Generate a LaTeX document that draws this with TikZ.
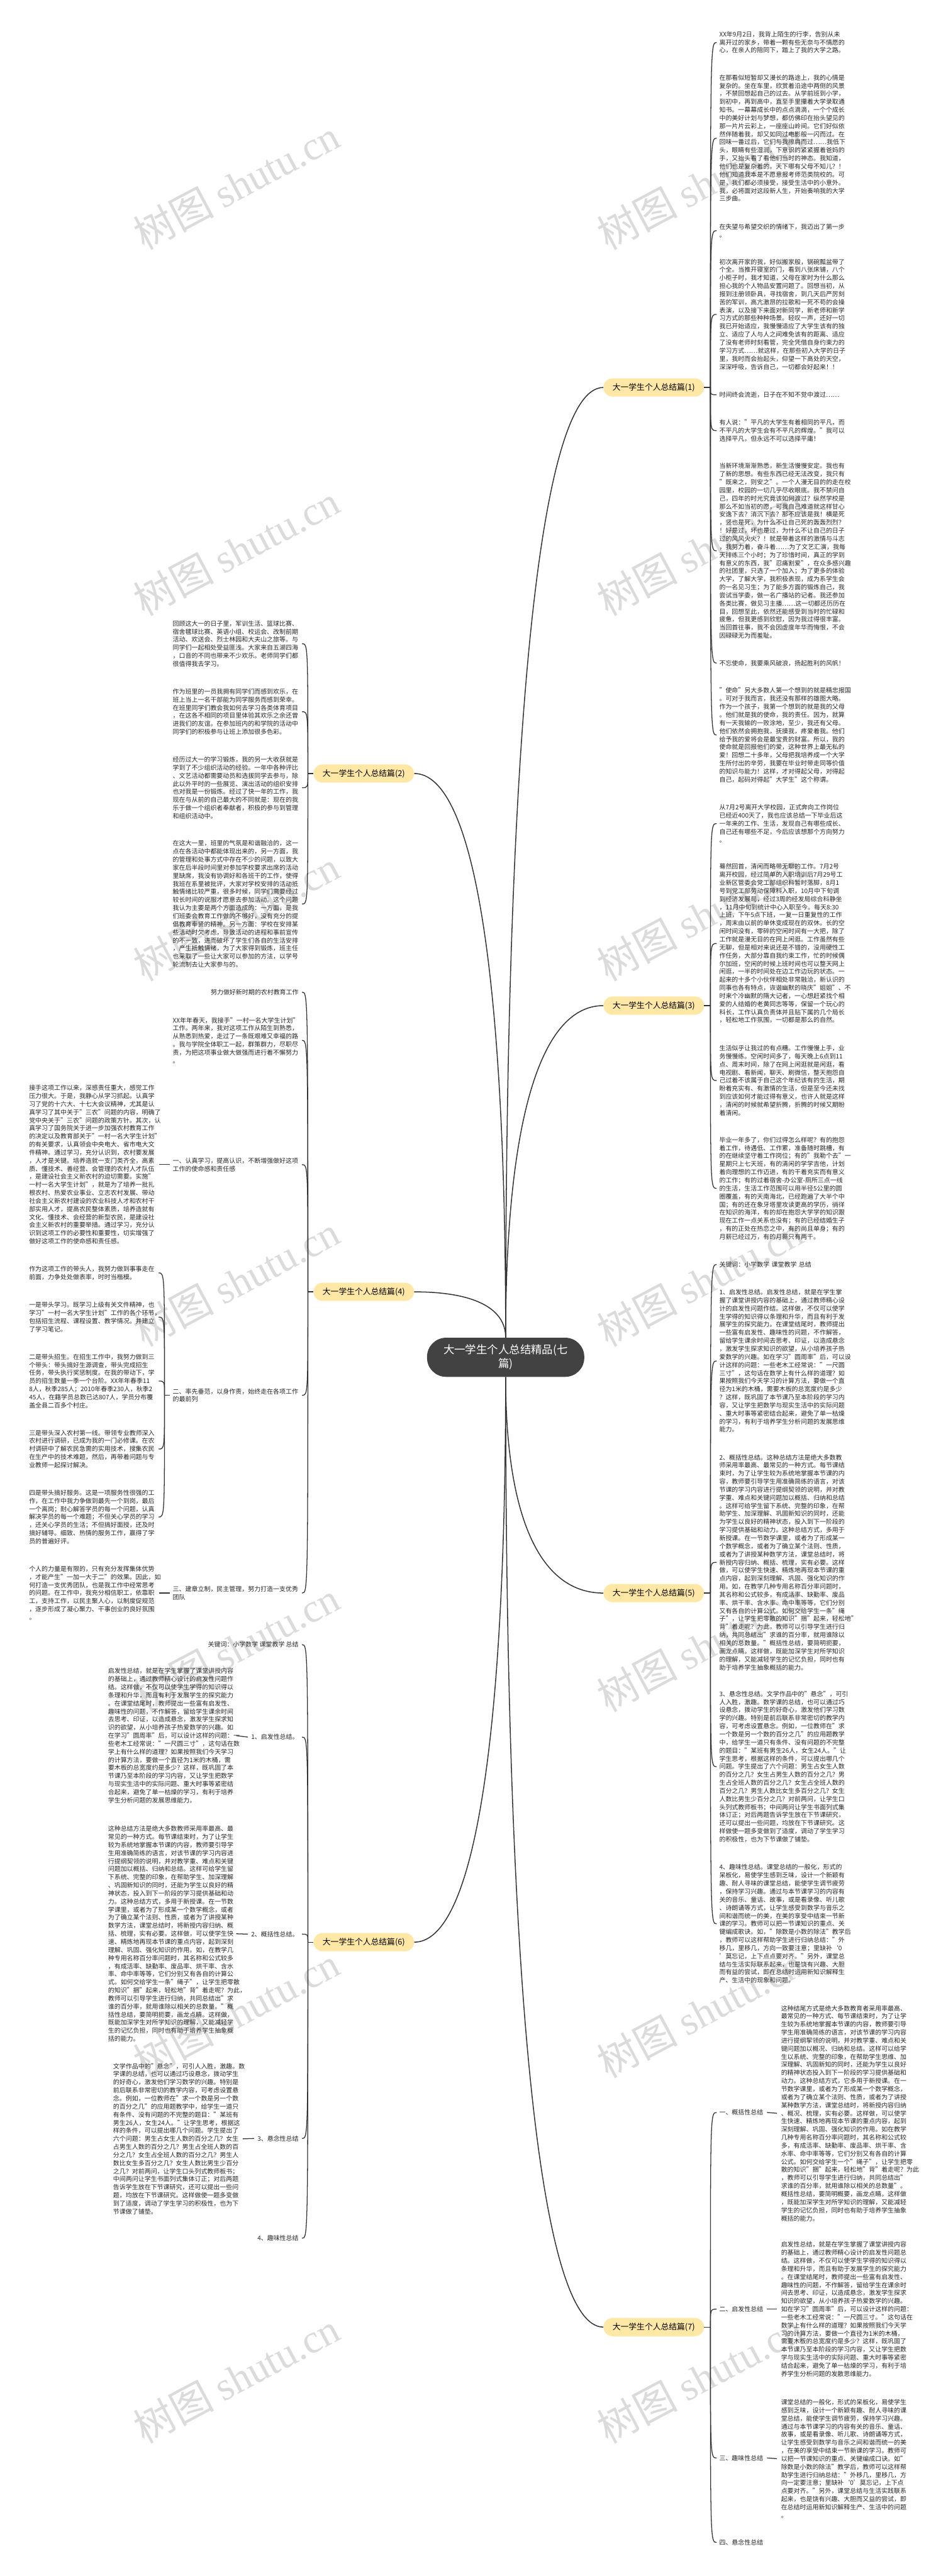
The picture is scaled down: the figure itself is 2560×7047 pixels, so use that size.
\documentclass[tikz,border=0pt]{standalone}
\usepackage{fontspec}
\setmainfont{Noto Sans CJK SC}
\newfontfamily\wmlat{Liberation Serif}
\definecolor{lc}{RGB}{51,51,51}
\definecolor{yel}{RGB}{255,231,166}
\definecolor{ctrc}{RGB}{66,66,66}
\begin{document}
\begin{tikzpicture}[x=0.5pt,y=-0.5pt,
  txt/.style={inner sep=0pt, align=left, text width=172pt, text=black!85, font=\fontsize{8.575pt}{11.05pt}\selectfont},
  lbl/.style={inner sep=0pt, text=black!85, font=\fontsize{8.575pt}{11.05pt}\selectfont},
  branch/.style={fill=yel, rounded corners=12.5pt, minimum width=137.5pt, minimum height=25pt, inner sep=0pt, font=\fontsize{11pt}{13pt}\selectfont},
  root/.style={fill=ctrc, text=white, rounded corners=26pt, minimum width=215pt, minimum height=53.5pt, inner sep=0pt, align=center, font=\fontsize{15pt}{19pt}\selectfont},
  conn/.style={draw=lc, line width=1.1pt},
  mainc/.style={draw=lc, line width=1.3pt},
  wmark/.style={rotate=28, text=black!14, inner sep=0pt, font=\fontsize{55pt}{60pt}\selectfont}]
\useasboundingbox[fill=white] (0,0) rectangle (2560,7047);

% watermarks
\foreach \yy [count=\i] in {505,1505,2505,3505,4505,5505,6505}{
  \node[wmark] (wl\i) at (647,\yy) {树图 {\wmlat shutu.cn}};
  \node[wmark] (wr\i) at (1915,\yy) {树图 {\wmlat shutu.cn}};
}

% root and branches
\node[root] (root) at (1383,3713) {大一学生个人总结精品(七\\篇)};
\node[branch] (b1) at (1788,1060) {大一学生个人总结篇(1)};
\node[branch] (b2) at (995,2116) {大一学生个人总结篇(2)};
\node[branch] (b3) at (1788,2751) {大一学生个人总结篇(3)};
\node[branch] (b4) at (995,3534) {大一学生个人总结篇(4)};
\node[branch] (b5) at (1788,4358) {大一学生个人总结篇(5)};
\node[branch] (b6) at (995,5313) {大一学生个人总结篇(6)};
\node[branch] (b7) at (1788,6366) {大一学生个人总结篇(7)};

\draw[mainc] (root.north) .. controls (1383,1970) and (1477,1060) .. (b1.west);
\draw[mainc] (root.north) .. controls (1383,3069) and (1477,2751) .. (b3.west);
\draw[mainc] (root.south) .. controls (1383,4151) and (1477,4358) .. (b5.west);
\draw[mainc] (root.south) .. controls (1383,5456) and (1477,6366) .. (b7.west);
\draw[mainc] (root.north) .. controls (1383,2656) and (1295,2116) .. (b2.east);
\draw[mainc] (root.north) .. controls (1383,3578) and (1295,3534) .. (b4.east);
\draw[mainc] (root.south) .. controls (1383,4772) and (1295,5313) .. (b6.east);

% exits
\coordinate (e1) at (1943,1060);
\coordinate (e3) at (1943,2751);
\coordinate (e5) at (1943,4358);
\coordinate (e7) at (1943,6366);
\coordinate (e2) at (842,2116);
\coordinate (e4) at (842,3534);
\coordinate (e6) at (842,5313);
\draw[conn] (b1.east) -- (e1);
\draw[conn] (b3.east) -- (e3);
\draw[conn] (b5.east) -- (e5);
\draw[conn] (b7.east) -- (e7);
\draw[conn] (b2.west) -- (e2);
\draw[conn] (b4.west) -- (e4);
\draw[conn] (b6.west) -- (e6);

% ---------- branch 1 ----------
\node[txt,anchor=west] (r11) at (1967,116) {XX年9月2日，我背上陌生的行李，告别从未\\离开过的家乡，带着一颗有些无奈与不情愿的\\心，在亲人的陪同下，踏上了我的大学之路。};
\node[txt,anchor=west] (r12) at (1967,378) {在那看似短暂却又漫长的路途上，我的心情是\\复杂的。坐在车里，欣赏着沿途中两侧的风景\\，不禁回想起自己的过去。从学前班到小学，\\到初中，再到高中，直至手里攥着大学录取通\\知书。一幕幕成长中的点点滴滴，一个个成长\\中的美好计划与梦想，都仿佛印在抬头望见的\\那一片片云彩上，一座座山岭间。它们好似依\\然伴随着我，却又如同过电影般一闪而过。在\\回味一番过后，它们与我擦肩而过……我低下\\头，眼睛有些湿润，下意识的紧紧握着爸妈的\\手，又抬头看了看他们当时的神态。我知道，\\他们也是复杂着的。天下哪有父母不知儿？！\\他们知道我本是不愿意报考师范类院校的。可\\是，我们都必须接受，接受生活中的小意外。\\我，必将面对这段新人生，开始奏响我的大学\\三步曲。};
\node[txt,anchor=west] (r13) at (1967,631) {在失望与希望交织的情绪下，我迈出了第一步\\。};
\node[txt,anchor=west] (r14) at (1967,860) {初次离开家的我，好似搬家般，锅碗瓢盆带了\\个全。当推开寝室的门，看到八张床铺，八个\\小柜子时，我才知道，父母在家时为什么那么\\担心我的个人物品安置问题了。回想当初，从\\报到注册领卧具，寻找宿舍，到几天后严厉刻\\苦的军训，高亢激昂的拉歌和一死不苟的会操\\表演，以及接下来面对新同学，新老师和新学\\习方式的那些种种场景。轻叹一声，还好一切\\我已开始适应，我慢慢适应了大学生该有的独\\立、适应了人与人之间难免该有的距离、适应\\了没有老师时刻看管，完全凭借自身约束力的\\学习方式……就这样，在那些初入大学的日子\\里，我时而会抬起头，仰望一下高处的天空，\\深深呼吸，告诉自己，一切都会好起来！！};
\node[txt,anchor=west] (r15) at (1967,1080) {时间终会流逝，日子在不知不觉中渡过……};
\node[txt,anchor=west] (r16) at (1967,1178) {有人说："平凡的大学生有着相同的平凡，而\\不平凡的大学生会有不平凡的辉煌。"我可以\\选择平凡，但永远不可以选择平庸！};
\node[txt,anchor=west] (r17) at (1967,1507) {当新环境渐渐熟悉，新生活慢慢安定。我也有\\了新的思想。有些东西已经无法改变，我只有\\"既来之，则安之"。一个人漫无目的的走在校\\园里，校园的一切几乎尽收眼底。我不禁问自\\己，四年的时光究竟该如何渡过？纵然学校是\\那么不如当初的愿，可我自己难道就这样甘心\\安逸下去？消沉下去？那不应该是我！横是死\\，竖也是死，为什么不让自己死的轰轰烈烈？\\！好是过，坏也是过，为什么不让自己的日子\\过的风风火火？！就是带着这样的激情与斗志\\，我努力着，奋斗着……为了文艺汇演，我每\\天排练三个小时；为了珍惜时间，真正的学到\\有意义的东西，我"忍痛割爱"，在众多感兴趣\\的社团里，只选了一个加入；为了更多的体验\\大学，了解大学，我积极表现，成为系学生会\\的一名见习生；为了能多方面的锻炼自己，我\\尝试当学委，做一名广播站的记者。我还参加\\各类比赛，做见习主播……这一切都还历历在\\目，回想至此，依然还能感受到当时的忙碌和\\疲惫，但我更感到欣慰，因为我过得很丰富。\\当回首往事，我不会因虚度年华而悔恨，不会\\因碌碌无为而羞耻。};
\node[txt,anchor=west] (r18) at (1967,1814) {不忘使命，我要乘风破浪，扬起胜利的风帆！};
\node[txt,anchor=west] (r19) at (1967,2011) {"使命"另大多数人第一个想到的就是精忠报国\\。可对于我而言，我还没有那样的雄图大略。\\作为一个孩子，我第一个想到的就是我的父母\\。他们就是我的使命，我的责任。因为，就算\\有一天我输的一败涂地，至少，我还有父母。\\他们依然会拥抱我，抚摸我，疼爱着我。他们\\给予我的爱将会是最宝贵的财富。所以，我的\\使命就是回报他们的爱，这种世界上最无私的\\爱！回想二十多年，父母把我培养成一个大学\\生所付出的辛劳，我要在毕业时带走同等价值\\的知识与能力！这样，才对得起父母，对得起\\自己，起码对得起"大学生"这个称谓。};
\foreach \n in {r11,r12,r13,r14,r15,r16,r17,r18,r19}
  \draw[conn] (e1) .. controls (e1 |- \n.west) .. ([xshift=-3.5pt]\n.west);

% ---------- branch 3 ----------
\node[txt,anchor=west] (r31) at (1967,2253) {从7月2号离开大学校园，正式奔向工作岗位\\已经近400天了，我也应该总结一下毕业后这\\一年来的工作、生活，发现自己有哪些成长、\\自己还有哪些不足，今后应该想那个方向努力\\。};
\node[txt,anchor=west] (r32) at (1967,2581) {蓦然回首，清闲而略带无聊的工作。7月2号\\离开校园，经过简单的入职培训后7月29号工\\业新区管委会党工部组织科暂时落脚，8月1\\号到党工部劳动保障科入职，10月中下旬调\\到经济发展局，经过3周的经发局综合科静坐\\，11月中旬到统计中心入职至今。每天8:30\\上班，下午5点下班，一复一日重复性的工作\\，周末由以前的单休变成现在的双休。长的空\\闲时间没有，零碎的空闲时间有一大把，除了\\工作就是漫无目的在网上闲逛。工作虽然有些\\无聊，但是相对来说还是不错的，没用硬性工\\作任务，大部分靠自我约束工作，忙的时候偶\\尔加班，空闲的时候上班时间也可以整天网上\\闲逛，一半的时间处在边工作边玩的状态。一\\起来的十多个小伙伴相处非常融洽，新认识的\\同事也各有特点，诙谐幽默的晓庆"姐姐"、不\\时来个冷幽默的隋大记者，一心想赶紧找个相\\爱的人结婚的老黄同志等等，保留一个玩心的\\科长，工作认真负责体并且贴下属的几个局长\\，轻松地工作氛围，一切都是那么的自然。};
\node[txt,anchor=west] (r33) at (1967,2956) {生活似乎让我过的有点糟。工作慢慢上手，业\\务慢慢练。空闲时间多了，每天晚上6点到11\\点、周末时间，除了在网上闲逛就是闲逛，看\\电视剧、看新闻，聊天、刷微信，整天抱怨自\\己过着不该属于自己这个年纪该有的生活，期\\盼着充实有、有激情的生活，但是至今还未找\\到应该如何才能过得有意义，也许人就是这样\\，清闲的时候就希望折腾，折腾的时候又期盼\\着清闲。};
\node[txt,anchor=west] (r34) at (1967,3251) {毕业一年多了，你们过得怎么样呢？有的抱怨\\着工作，待遇低、工作累，准备随时跳槽，有\\的在继续坚守着工作岗位；有的"我勒个去"一\\星期只上七天班，有的清闲的学学吉他，计划\\着向理想的工作迈进，有的干着充实而有意义\\的工作；有的过着宿舍-办公室-厕所三点一线\\的生活，生活工作范围可以用半径5公里的圆\\圈覆盖，有的天南海北，已经跑遍了大半个中\\国；有的还在象牙塔里攻读更高的学历，徜徉\\在知识的海洋，有的却在抱怨大学学的知识跟\\现在工作一点关系也没有；有的已经结婚生子\\，有的正处在热恋之中，有的尚且单身；有的\\月薪已经过万，有的月薪只有两千。};
\foreach \n in {r31,r32,r33,r34}
  \draw[conn] (e3) .. controls (e3 |- \n.west) .. ([xshift=-3.5pt]\n.west);

% ---------- branch 5 ----------
\node[txt,anchor=west] (r51) at (1967,3459) {关键词：小学数学 课堂教学 总结};
\node[txt,anchor=west] (r52) at (1967,3723) {1、启发性总结。启发性总结，就是在学生掌\\握了课堂讲授内容的基础上，通过教师精心设\\计的启发性问题作结。这样做，不仅可以使学\\生学得的知识得以条理和升华，而且有利于发\\展学生的探究能力。在课堂结尾时，教师提出\\一些富有启发性、趣味性的问题，不作解答，\\留给学生课余时间去思考、印证，以造成悬念\\，激发学生探求知识的欲望，从小培养孩子热\\爱数学的兴趣。如在学习"圆周率"后，可以设\\计这样的问题：一些老木工经常说："一尺圆\\三寸"，这句话在数学上有什么样的道理？如\\果按照我们今天学习的计算方法，要做一个直\\径为1米的木桶，需要木板的总宽度约是多少\\？这样，既巩固了本节课乃至本阶段的学习内\\容，又让学生把数学与现实生活中的实际问题\\、重大时事等紧密结合起来，避免了单一枯燥\\的学习，有利于培养学生分析问题的发展思维\\能力。};
\node[txt,anchor=west] (r53) at (1967,4274) {2、概括性总结。这种总结方法是绝大多数教\\师采用率最高、最常见的一种方式。每节课结\\束时，为了让学生较为系统地掌握本节课的内\\容，教师要引导学生用准确简练的语言，对该\\节课的学习内容进行提纲契领的说明，并对教\\学重、难点和关键问题加以概括、归纳和总结\\。这样可给学生留下系统、完整的印象，在帮\\助学生、加深理解、巩固新知识的同时，还能\\为学生以良好的精神状态，投入到下一阶段的\\学习提供基础和动力。这种总结方式，多用于\\新授课。在一节数学课里，或者为了形成某一\\个数学概念，或者为了确立某个法则、性质，\\或者为了讲授某种数学方法，课堂总结时，将\\新授内容归纳、概括、梳理，实有必要。这样\\做，可以使学生快速、精炼地再现本节课的重\\点内容，起到深刻理解、巩固、强化知识的作\\用。如，在教学几种专用名称百分率问题时，\\其名称和公式较多，有成活率、缺勤率、废品\\率、烘干率、含水率、命中率等等，它们分别\\又有各自的计算公式。如何交给学生一条"绳\\子"，让学生把零散的知识"捆"起来，轻松地"\\背"着走呢？为此，教师可以引导学生进行归\\纳，共同总结出"求谁的百分率，就用谁除以\\相关的总数量。"概括性总结，要简明扼要，\\画龙点睛。这样做，既能加深学生对所学知识\\的理解，又能减轻学生的记忆负担，同时也有\\助于培养学生抽象概括的能力。};
\node[txt,anchor=west] (r54) at (1967,4833) {3、悬念性总结。文学作品中的"悬念"，可引\\人入胜，激趣。数学课的总结，也可以通过巧\\设悬念，拨动学生的好奇心，激发他们学习数\\学的兴趣。特别是前后联系非常密切的教学内\\容，可考虑设置悬念。例如，一位教师在"求\\一个数是另一个数的百分之几"的应用题教学\\中，给学生一道只有条件、没有问题的不完整\\的题目："某班有男生26人，女生24人。"让\\学生思考，根据这样的条件，可以提出哪几个\\问题。学生提出了六个问题：男生占女生人数\\的百分之几？女生占男生人数的百分之几？男\\生占全班人数的百分之几？女生占全班人数的\\百分之几？男生人数比女生多百分之几？女生\\人数比男生少百分之几？对前两问，让学生口\\头列式教师板书；中间两问让学生书面列式集\\体订正；对后两题告诉学生放在下节课研究，\\还可以提出一些问题，均放在下节课研究。这\\样做使一题多变做到了适度，调动了学生学习\\的积极性，也为下节课做了铺垫。};
\node[txt,anchor=west] (r55) at (1967,5263) {4、趣味性总结。课堂总结的一般化，形式的\\呆板化，易使学生感到乏味，设计一个新颖有\\趣、耐人寻味的课堂总结，能使学生调节疲劳\\，保持学习兴趣。通过与本节课学习的内容有\\关的音乐、童话、故事，或是看录像、听儿歌\\、诗朗诵等方式，让学生感受到数学与音乐之\\间和谐而统一的美，在美的享受中结束一节新\\课的学习。教师可以把一节课知识的重点、关\\键编成歌诀。如，"除数是小数的除法"教学后\\，教师可以这样帮助学生进行归纳总结："外\\移几，里移几，方向一致要注意；里缺补‘0\\’莫忘记，上下点点要对齐。"另外，课堂总\\结与生活实际联系起来，也是饶有兴趣、大胆\\而有益的尝试，即在总结时运用新知识解释生\\产、生活中的现象和问题。};
\foreach \n in {r51,r52,r53,r54,r55}
  \draw[conn] (e5) .. controls (e5 |- \n.west) .. ([xshift=-3.5pt]\n.west);

% ---------- branch 7 ----------
\node[lbl,anchor=west] (r71) at (1967,5779) {一、概括性总结};
\node[lbl,anchor=west] (r72) at (1967,6317) {二、启发性总结};
\node[lbl,anchor=west] (r73) at (1967,6724) {三、趣味性总结};
\node[lbl,anchor=west] (r74) at (1967,6955) {四、悬念性总结};
\foreach \n in {r71,r72,r73,r74}
  \draw[conn] (e7) .. controls (e7 |- \n.west) .. ([xshift=-3.5pt]\n.west);
\node[txt,anchor=west] (g71) at (2136,5781) {这种结尾方式是绝大多数教育者采用率最高、\\最常见的一种方式、每节课结束时，为了让学\\生较为系统地掌握本节课的内容，教师要引导\\学生用准确简练的语言，对该节课的学习内容\\进行提纲挈领的说明，并对教学重、难点和关\\键问题加以概况、归纳和总结。这样可以给学\\生以系统、完整的印象，在帮助学生思维、加\\深理解、巩固新知的同时，还能为学生以良好\\的精神状态投入到下一阶段的学习提供基础和\\动力。这种总结方式，它多用于新授课。在一\\节数学课里，或者为了形成某一个数学概念，\\或者为了确立某个法则、性质，或者为了讲授\\某种数学方法，课堂总结时，将新授内容归纳\\、概况、梳理，实有必要。这样做，可以使学\\生快速、精炼地再现本节课的重点内容，起到\\深刻理解、巩固、强化知识的作用。如在教学\\几种专用名称百分率问题时，其名称和公式较\\多，有成活率、缺勤率、废品率、烘干率、含\\水率、命中率等等，它们分别又有各自的计算\\公式。如何交给学生一个"绳子"，让学生把零\\散的知识"捆"起来，轻松地"背"着走呢？为此\\，教师可以引导学生进行归纳，共同总结出"\\求谁的百分率，就用谁除以相关的总数量"。\\概括性总结，要简明概要，画龙点睛。这样做\\，既能加深学生对所学知识的理解，又能减轻\\学生的记忆负担，同时也有助于培养学生抽象\\概括的能力。};
\node[txt,anchor=west] (g72) at (2136,6317) {启发性总结，就是在学生掌握了课堂讲授内容\\的基础上，通过教师精心设计的启发性问题总\\结。这样做，不仅可以使学生学得的知识得以\\条理和升华，而且有助于发展学生的探究能力\\。在课堂结尾时，教师提出一些富有启发性、\\趣味性的问题，不作解答，留给学生在课余时\\间去思考、印证，以造成悬念，激发学生探求\\知识的欲望，从小培养孩子热爱数学的兴趣。\\如在学习"圆周率"后，可以设计这样的问题：\\一些老木工经常说："一尺圆三寸。"这句话在\\数学上有什么样的道理？如果按照我们今天学\\习的计算方法，要做一个直径为1米的木桶，\\需要木板的总宽度约是多少？这样，既巩固了\\本节课乃至本阶段的学习内容，又让学生把数\\学与现实生活中的实际问题、重大时事等紧密\\结合起来，避免了单一枯燥的学习，有利于培\\养学生分析问题的发散思维能力。};
\node[txt,anchor=west] (g73) at (2136,6726) {课堂总结的一般化，形式的呆板化，易使学生\\感到乏味，设计一个新颖有趣、耐人寻味的课\\堂总结，能使学生调节疲劳，保持学习兴趣。\\通过与本节课学习的内容有关的音乐、童话、\\故事，或是看录像、听儿歌、诗朗诵等方式，\\让学生感受到数学与音乐之间和谐而统一的美\\，在美的享受中结束一节新课的学习。教师可\\以把一节课知识的重点、关键编成口诀。如"\\除数是小数的除法"教学后，教师可以这样帮\\助学生进行归纳总结："外移几，里移几，方\\向一定要注意；里缺补‘0’莫忘记，上下点\\点要对齐。"另外，课堂总结与生活实践联系\\起来，也是饶有兴趣、大胆而又益的尝试，即\\在总结时运用新知识解释生产、生活中的问题\\。};
\draw[conn] ([xshift=5pt]r71.east) -- ([xshift=-5.5pt]g71.west);
\draw[conn] ([xshift=5pt]r72.east) -- ([xshift=-5.5pt]g72.west);
\draw[conn] ([xshift=5pt]r73.east) -- ([xshift=-5.5pt]g73.west);

% ---------- branch 2 ----------
\node[txt,anchor=east] (l21) at (817,1761) {回顾这大一的日子里，军训生活、篮球比赛、\\宿舍毽球比赛、英语小组、校运会、改制前期\\活动、欢送会、烈士林园和大夫山之旅等。与\\同学们一起相处受益匪浅。大家来自五湖四海\\，口音的不同也带来不少欢乐。老师同学们都\\很值得我去学习。};
\node[txt,anchor=east] (l22) at (817,1947) {作为班里的一员我拥有同学们而感到欢乐，在\\班上当上一名干部能为同学服务而感到荣幸。\\在班里同学们教会我如何去学习各类体育项目\\，在这各不相同的项目里体验其欢乐之余还曾\\进我们的友谊。在参加班内的和学院的活动中\\同学们的积极参与让班上添加很多色彩。};
\node[txt,anchor=east] (l23) at (817,2155) {经历过大一的学习锻炼，我的另一大收获就是\\学到了不少组织活动的经验。一年中各种评比\\、文艺活动都需要动员和选拔同学去参与，除\\此以外平时的一些展览、演出活动的组织安排\\也对我是一份锻炼。经过了快一年的工作，我\\现在与从前的自己最大的不同就是：现在的我\\乐于做一个组织者奉献者，积极的参与到管理\\和组织活动中。};
\node[txt,anchor=east] (l24) at (817,2473) {在这大一里，班里的气氛是和谐融洽的，这一\\点在各活动中都能体现出来的，另一方面，我\\的管理和处事方式中存在不少的问题，以致大\\家在后半段时间里对参加学校要求出席的活动\\里缺席，我没有协调好和各班干的工作，使得\\我班在系里被批评，大家对学校安排的活动抵\\触情绪比较严重，很多时候，同学们需要经过\\较长时间的说服才愿意去参加活动。这个问题\\我认为主要是两个方面造成的：一方面，是我\\们班委会教育工作做的不够好，没有充分的提\\倡教育奉贤的精神。另一方面：学校在安排某\\些活动时欠考虑，导致活动的进程和事前宣传\\的不一致，进而破坏了学生们各自的生活安排\\，产生抵触情绪，为了大家得到锻炼，班主任\\也采取了一些让大家可以参加的方法，以学号\\轮流制去让大家参与的。};
\foreach \n in {l21,l22,l23,l24}
  \draw[conn] (e2) .. controls (e2 |- \n.east) .. ([xshift=4.5pt]\n.east);

% ---------- branch 4 ----------
\node[lbl,anchor=east] (l40) at (817,2714) {努力做好新时期的农村教育工作};
\node[txt,anchor=east] (l41) at (817,2846) {XX年年春天，我接手"一村一名大学生计划"\\工作。两年来，我对这项工作从陌生到熟悉，\\从熟悉到热爱，走过了一条既艰难又幸福的路\\。我与学院全体职工一起，群策群力，尽职尽\\责，为把这项事业做大做强而进行着不懈努力\\。};
\node[txt,anchor=east] (l42) at (817,3186) {一、认真学习，提高认识，不断增强做好这项\\工作的使命感和责任感};
\node[txt,anchor=east] (l43) at (817,3817) {二、率先垂范，以身作责，始终走在各项工作\\的最前列};
\node[txt,anchor=east] (l44) at (817,4358) {三、建章立制，民主管理，努力打造一支优秀\\团队};
\foreach \n in {l40,l41,l42,l43,l44}
  \draw[conn] (e4) .. controls (e4 |- \n.east) .. ([xshift=4.5pt]\n.east);

\node[txt,anchor=east] (g42) at (424,3186) {接手这项工作以来，深感责任重大，感觉工作\\压力很大。于是，我静心从学习抓起。认真学\\习了党的十六大、十七大会议精神，尤其是认\\真学习了其中关于"三农"问题的内容，明确了\\党中央关于"三农"问题的政策方针。其次，认\\真学习了国务院关于进一步加强农村教育工作\\的决定以及教育部关于"一村一名大学生计划"\\的有关要求，认真领会中央电大、省市电大文\\件精神。通过学习，充分认识到，农村要发展\\，人才是关键。培养造就一支门类齐全，高素\\质、懂技术、善经营、会管理的农村人才队伍\\，是建设社会主义新农村的迫切需要。实施"\\一村一名大学生计划"，就是为了培养一批扎\\根农村、热爱农业事业、立志农村发展、带动\\社会主义新农村建设的农业科技人才和农村干\\部实用人才，提高农民整体素质，培养造就有\\文化、懂技术、会经营的新型农民，是建设社\\会主义新农村的重要举措。通过学习，充分认\\识到这项工作的必要性和重要性，切实增强了\\做好这项工作的使命感和责任感。};
\draw[conn] ([xshift=-4pt]l42.west) -- ([xshift=6pt]g42.east);

\coordinate (e43) at (450,3817);
\draw[conn] ([xshift=-4pt]l43.west) -- (e43);
\node[txt,anchor=east] (g431) at (424,3482) {作为这项工作的带头人，我努力做到事事走在\\前面，力争处处做表率，时时当楷模。};
\node[txt,anchor=east] (g432) at (424,3603) {一是带头学习。既学习上级有关文件精神，也\\学习"一村一名大学生计划"工作的各个环节，\\包括招生流程、课程设置、教学情况。并建立\\了学习笔记。};
\node[txt,anchor=east] (g433) at (424,3778) {二是带头招生。在招生工作中，我努力做到三\\个带头：带头搞好生源调查，带头完成招生\\任务，带头执行奖惩制度。在我的带动下，学\\员的招生数量一季一个台阶。XX年年春季11\\8人，秋季285人；2010年春季230人，秋季2\\45人，在籍学员总数已达807人，学员分布覆\\盖全县二百多个村庄。};
\node[txt,anchor=east] (g434) at (424,3964) {三是带头深入农村第一线。带领专业教师深入\\农村进行调研，已成为我的一门必修课。在农\\村调研中了解农民急需的实用技术，搜集农民\\在生产中的技术难题，然后，再带着问题与专\\业教师一起探讨解决。};
\node[txt,anchor=east] (g435) at (424,4150) {四是带头搞好服务。这是一项服务性很强的工\\作，在工作中我力争做到最先一个到岗，最后\\一个离岗；耐心解答学员的每一个问题，认真\\解决学员的每一个难题；不但关心学员的学习\\，还关心学员的生活；不但搞好面授，还及时\\搞好辅导。细致、热情的服务工作，赢得了学\\员的普遍好评。};
\foreach \n in {g431,g432,g433,g434,g435}
  \draw[conn] (e43) .. controls (e43 |- \n.east) .. ([xshift=5pt]\n.east);

\node[txt,anchor=east] (g44) at (424,4358) {个人的力量是有限的，只有充分发挥集体优势\\，才能产生"一加一大于二"的效果。因此，如\\何打造一支优秀团队，也是我工作中经常思考\\的问题。在工作中，我充分相信职工，依靠职\\工，支持工作，以民主聚人心，以制度促规范\\，逐步形成了凝心聚力、干事创业的良好氛围\\。};
\draw[conn] ([xshift=-4pt]l44.west) -- ([xshift=6pt]g44.east);

% ---------- branch 6 ----------
\node[lbl,anchor=east] (l60) at (817,4499) {关键词：小学数学 课堂教学 总结};
\node[lbl,anchor=east] (l61) at (817,4752) {1、启发性总结。};
\node[lbl,anchor=east] (l62) at (817,5291) {2、概括性总结。};
\node[lbl,anchor=east] (l63) at (817,5850) {3、悬念性总结};
\node[lbl,anchor=east] (l64) at (817,6123) {4、趣味性总结};
\foreach \n in {l60,l61,l62,l63,l64}
  \draw[conn] (e6) .. controls (e6 |- \n.east) .. ([xshift=4.5pt]\n.east);

\node[txt,anchor=east] (g61) at (640,4748) {启发性总结，就是在学生掌握了课堂讲授内容\\的基础上，通过教师精心设计的启发性问题作\\结。这样做，不仅可以使学生学得的知识得以\\条理和升华，而且有利于发展学生的探究能力\\。在课堂结尾时，教师提出一些富有启发性、\\趣味性的问题，不作解答，留给学生课余时间\\去思考、印证，以造成悬念，激发学生探求知\\识的欲望，从小培养孩子热爱数学的兴趣。如\\在学习"圆周率"后，可以设计这样的问题：一\\些老木工经常说："一尺圆三寸"，这句话在数\\学上有什么样的道理？如果按照我们今天学习\\的计算方法，要做一个直径为1米的木桶，需\\要木板的总宽度约是多少？这样，既巩固了本\\节课乃至本阶段的学习内容，又让学生把数学\\与现实生活中的实际问题、重大时事等紧密结\\合起来，避免了单一枯燥的学习，有利于培养\\学生分析问题的发展思维能力。};
\node[txt,anchor=east] (g62) at (640,5290) {这种总结方法是绝大多数教师采用率最高、最\\常见的一种方式。每节课结束时，为了让学生\\较为系统地掌握本节课的内容，教师要引导学\\生用准确简练的语言，对该节课的学习内容进\\行提纲契领的说明，并对教学重、难点和关键\\问题加以概括、归纳和总结。这样可给学生留\\下系统、完整的印象，在帮助学生、加深理解\\、巩固新知识的同时，还能为学生以良好的精\\神状态，投入到下一阶段的学习提供基础和动\\力。这种总结方式，多用于新授课。在一节数\\学课里，或者为了形成某一个数学概念，或者\\为了确立某个法则、性质，或者为了讲授某种\\数学方法，课堂总结时，将新授内容归纳、概\\括、梳理，实有必要。这样做，可以使学生快\\速、精炼地再现本节课的重点内容，起到深刻\\理解、巩固、强化知识的作用。如，在教学几\\种专用名称百分率问题时，其名称和公式较多\\，有成活率、缺勤率、废品率、烘干率、含水\\率、命中率等等，它们分别又有各自的计算公\\式。如何交给学生一条"绳子"，让学生把零散\\的知识"捆"起来，轻松地"背"着走呢？为此，\\教师可以引导学生进行归纳，共同总结出"求\\谁的百分率，就用谁除以相关的总数量。"概\\括性总结，要简明扼要，画龙点睛。这样做，\\既能加深学生对所学知识的理解，又能减轻学\\生的记忆负担，同时也有助于培养学生抽象概\\括的能力。};
\node[txt,anchor=east] (g63) at (654,5851) {文学作品中的"悬念"，可引人入胜，激趣。数\\学课的总结，也可以通过巧设悬念，拨动学生\\的好奇心，激发他们学习数学的兴趣。特别是\\前后联系非常密切的教学内容，可考虑设置悬\\念。例如，一位教师在"求一个数是另一个数\\的百分之几"的应用题教学中，给学生一道只\\有条件、没有问题的不完整的题目："某班有\\男生26人，女生24人。"让学生思考，根据这\\样的条件，可以提出哪几个问题。学生提出了\\六个问题：男生占女生人数的百分之几？女生\\占男生人数的百分之几？男生占全班人数的百\\分之几？女生占全班人数的百分之几？男生人\\数比女生多百分之几？女生人数比男生少百分\\之几？对前两问，让学生口头列式教师板书；\\中间两问让学生书面列式集体订正；对后两题\\告诉学生放在下节课研究，还可以提出一些问\\题，均放在下节课研究。这样做使一题多变做\\到了适度，调动了学生学习的积极性，也为下\\节课做了铺垫。};
\draw[conn] ([xshift=-4.5pt]l61.west) -- ([xshift=3pt]g61.east);
\draw[conn] ([xshift=-4.5pt]l62.west) -- ([xshift=3pt]g62.east);
\draw[conn] ([xshift=-4.5pt]l63.west) -- ([xshift=5pt]g63.east);
\end{tikzpicture}
\end{document}
